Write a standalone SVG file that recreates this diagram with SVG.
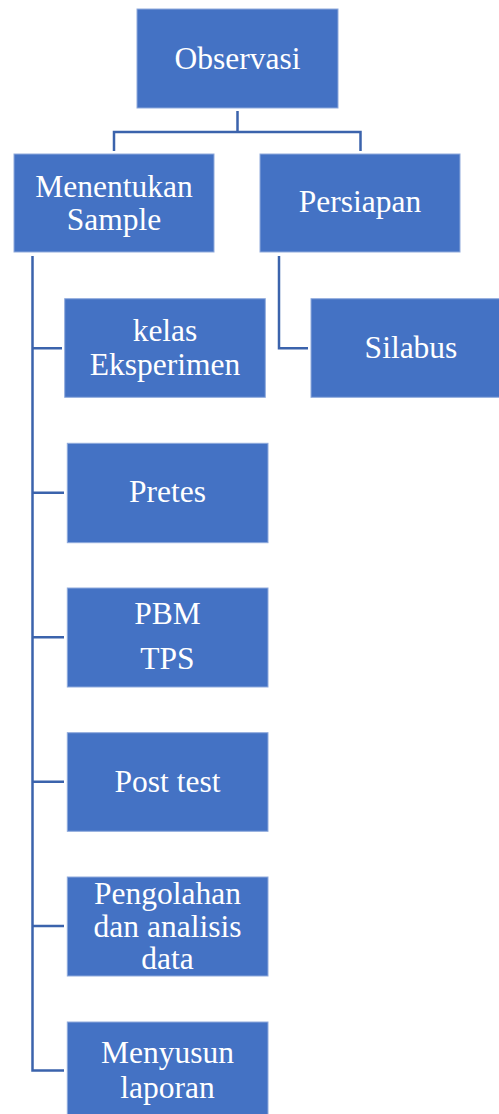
<svg xmlns="http://www.w3.org/2000/svg" width="499" height="1114" viewBox="0 0 499 1114">
  <style>
    .box { fill: #4472C4; stroke: #8FAADC; stroke-width: 1; }
    .lbl { fill: #FFFFFF; font-family: 'Liberation Serif', 'Times New Roman', serif; font-size: 31.5px; text-anchor: middle; }
    .link { fill: none; stroke: #3B63AC; stroke-width: 2.5; }
  </style>
  <rect width="499" height="1114" fill="#FFFFFF"/>

  <!-- connectors: root fork, left spine with branches, right elbow -->
  <g id="connectors">
    <path class="link" d="M237.5 111 V132 M114 151 V132 H360.5 V151"/>
    <path class="link" d="M32.5 256 V1070.5 H64 M32.5 348.3 H62 M32.5 492.7 H64 M32.5 637.3 H64 M32.5 781.7 H64 M32.5 926 H64"/>
    <path class="link" d="M279 256 V348.3 H308"/>
  </g>

  <g id="observasi">
    <rect class="box" x="137" y="9" width="201" height="99"/>
    <text class="lbl" x="237.5" y="69">Observasi</text>
  </g>
  <g id="menentukan-sample">
    <rect class="box" x="14" y="154" width="200" height="98"/>
    <text class="lbl" x="114" y="196.7">Menentukan</text>
    <text class="lbl" x="114" y="230">Sample</text>
  </g>
  <g id="persiapan">
    <rect class="box" x="260" y="154" width="200" height="98"/>
    <text class="lbl" x="360" y="212.3">Persiapan</text>
  </g>
  <g id="kelas-eksperimen">
    <rect class="box" x="64.7" y="298.7" width="200.6" height="98.6"/>
    <text class="lbl" x="165" y="340.7">kelas</text>
    <text class="lbl" x="165" y="375">Eksperimen</text>
  </g>
  <g id="silabus">
    <rect class="box" x="311" y="298.7" width="200" height="98.6"/>
    <text class="lbl" x="411" y="357.7">Silabus</text>
  </g>
  <g id="pretes">
    <rect class="box" x="67.3" y="443.3" width="200.7" height="99.4"/>
    <text class="lbl" x="167.5" y="502.3">Pretes</text>
  </g>
  <g id="pbm-tps">
    <rect class="box" x="67.3" y="588" width="200.7" height="99"/>
    <text class="lbl" x="167.5" y="624">PBM</text>
    <text class="lbl" x="167.5" y="669.3">TPS</text>
  </g>
  <g id="post-test">
    <rect class="box" x="67.3" y="732.7" width="200.7" height="98.6"/>
    <text class="lbl" x="167.5" y="791.7">Post test</text>
  </g>
  <g id="pengolahan">
    <rect class="box" x="67.3" y="877" width="200.7" height="99"/>
    <text class="lbl" x="167.5" y="904">Pengolahan</text>
    <text class="lbl" x="167.5" y="937.3">dan analisis</text>
    <text class="lbl" x="167.5" y="969.3">data</text>
  </g>
  <g id="menyusun-laporan">
    <rect class="box" x="67.3" y="1022" width="200.7" height="99"/>
    <text class="lbl" x="167.5" y="1063.3">Menyusun</text>
    <text class="lbl" x="167.5" y="1098.3">laporan</text>
  </g>
</svg>
